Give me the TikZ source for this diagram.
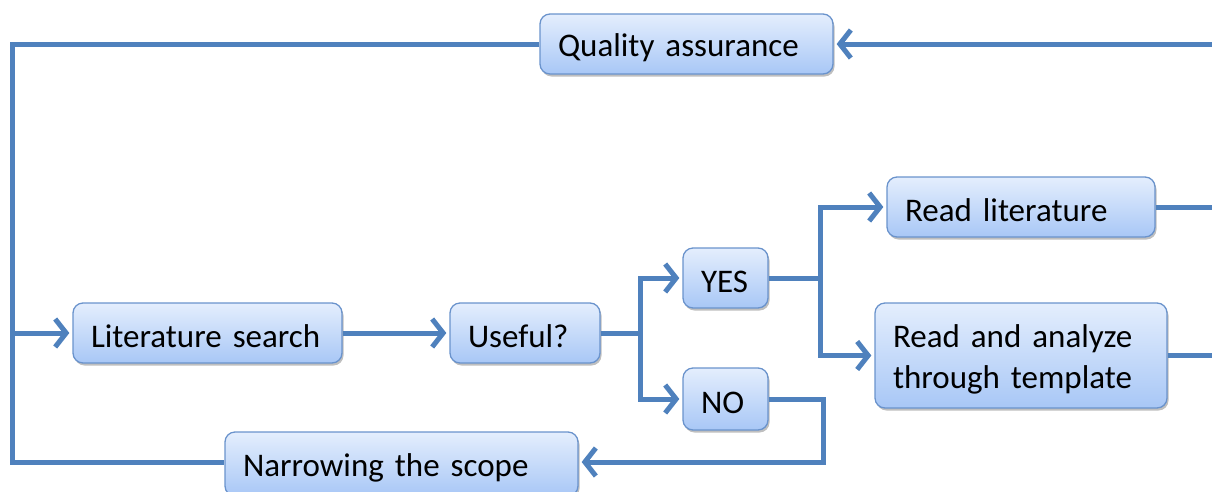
\documentclass[tikz,border=0pt]{standalone}
\usepackage{fontspec}
\setmainfont{Carlito}
\usetikzlibrary{arrows.meta,shadows}
\definecolor{lineblue}{HTML}{4F81BD}
\definecolor{boxborder}{HTML}{6A93CC}
\definecolor{boxtop}{HTML}{E4EEFD}
\definecolor{boxbot}{HTML}{A8C7F6}
\tikzset{
  box/.style={draw=boxborder, line width=1.3pt, rounded corners=10pt,
    top color=boxtop, bottom color=boxbot, inner xsep=18pt, inner ysep=0pt,
    align=left, font=\fontsize{33}{41}\selectfont,
    execute at begin node={\rule{0pt}{30pt}},
    drop shadow={shadow xshift=1.5pt, shadow yshift=-2.5pt, opacity=0.25, fill=black}},
  conn/.style={draw=lineblue, line width=5pt},
  arr/.style={conn, -{Straight Barb[length=11pt, width=28pt, line width=5pt]}, shorten >=3pt},
}
\begin{document}
\begin{tikzpicture}[x=1pt, y=-1pt]
\useasboundingbox (0,0) rectangle (1212,491);
\node[box, minimum width=293pt, minimum height=60pt, text width=257pt] (qa) at (686.5,44) {Quality assurance};
\node[box, minimum width=268pt, minimum height=60pt, text width=232pt] (rl) at (1021,207) {Read literature};
\node[box, minimum width=85pt, minimum height=60pt, text width=49pt] (yes) at (725.5,278) {YES};
\node[box, minimum width=269pt, minimum height=60pt, text width=233pt] (ls) at (207.5,333) {Literature search};
\node[box, minimum width=150pt, minimum height=60pt, text width=114pt] (use) at (525,333) {Useful?};
\node[box, minimum width=292pt, minimum height=105pt, text width=256pt] (ra) at (1021,355.5) {Read and analyze\\through template};
\node[box, minimum width=85pt, minimum height=62pt, text width=49pt] (no) at (725.5,399) {NO};
\node[box, minimum width=353pt, minimum height=64pt, text width=317pt] (nar) at (401.5,464) {Narrowing the scope};

\coordinate (tl) at (12,44);
\coordinate (bl) at (12,462);
\coordinate (lj) at (12,333);
\coordinate (tr) at (1212,44);
\coordinate (uj) at (640,333);
\coordinate (yj) at (820,278);
\coordinate (nj) at (823,399);

\draw[conn] (qa.west) -- (tl) -- (bl) -- (bl -| nar.west);
\draw[arr] (lj) -- (ls.west);
\draw[arr] (tr) -- (qa.east);
\draw[conn] (rl.east) -- (rl.east -| tr);
\draw[conn] (ra.east) -- (ra.east -| tr);
\draw[arr] (ls.east) -- (use.west);
\draw[conn] (use.east) -- (uj);
\draw[arr] (uj) |- (yes.west);
\draw[arr] (uj) |- (no.west);
\draw[conn] (yes.east) -- (yj);
\draw[arr] (yj) |- (rl.west);
\draw[arr] (yj) |- (ra.west);
\draw[arr] (no.east) -- (nj) |- (nj |- bl) -- (bl -| nar.east);
\end{tikzpicture}
\end{document}
